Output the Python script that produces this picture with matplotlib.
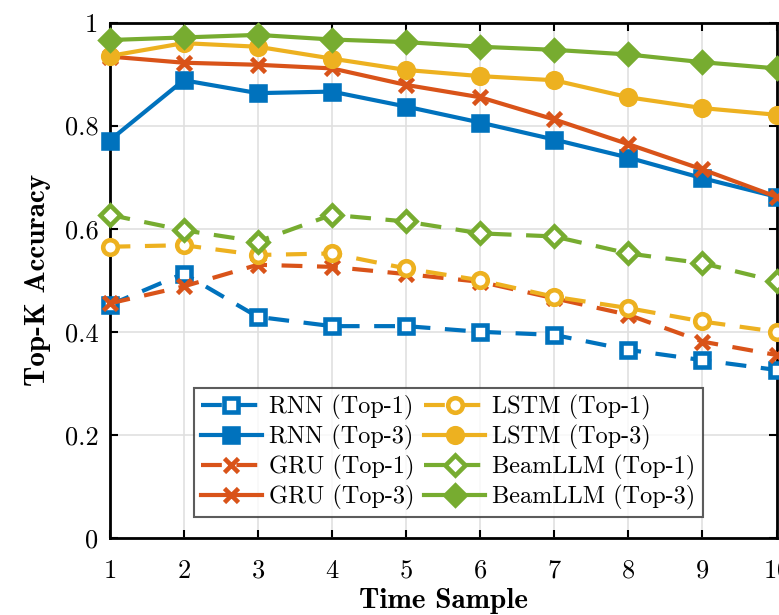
import numpy as np
import matplotlib.pyplot as plt

# Data
time_sample = [1, 2, 3, 4, 5, 6, 7, 8, 9, 10]

rnn_top1 = [0.452, 0.513, 0.429, 0.411, 0.411, 0.400, 0.394, 0.365, 0.345, 0.326]
rnn_top3 = [0.771, 0.888, 0.863, 0.866, 0.837, 0.806, 0.773, 0.738, 0.698, 0.662]
gru_top1 = [0.455, 0.488, 0.530, 0.526, 0.512, 0.497, 0.465, 0.433, 0.381, 0.355]
gru_top3 = [0.934, 0.922, 0.918, 0.911, 0.879, 0.855, 0.812, 0.764, 0.715, 0.662]
lstm_top1 = [0.565, 0.568, 0.549, 0.552, 0.523, 0.500, 0.468, 0.446, 0.420, 0.400]
lstm_top3 = [0.935, 0.960, 0.953, 0.930, 0.908, 0.896, 0.888, 0.855, 0.834, 0.821]
beam_top1 = [0.627, 0.597, 0.575, 0.627, 0.614, 0.591, 0.585, 0.552, 0.533, 0.498]
beam_top3 = [0.966, 0.971, 0.976, 0.967, 0.962, 0.953, 0.947, 0.938, 0.923, 0.911]

blue = '#0072BD'
orange = '#D95319'
yellow = '#EDB120'
green = '#77AC30'

plt.rcParams['font.family'] = 'cmr10'
plt.rcParams['axes.formatter.use_mathtext'] = True

fig = plt.figure(figsize=(7.79, 6.15), dpi=100)
ax = fig.add_axes([0.1406, 0.1252, 0.8562, 0.8382])

lw = 3.0
ms = 10.5
dash = (0, (5, 3.5))

series = [
    (rnn_top1, blue, 's', True, 'RNN (Top-1)'),
    (rnn_top3, blue, 's', False, 'RNN (Top-3)'),
    (gru_top1, orange, 'x', True, 'GRU (Top-1)'),
    (gru_top3, orange, 'x', False, 'GRU (Top-3)'),
    (lstm_top1, yellow, 'o', True, 'LSTM (Top-1)'),
    (lstm_top3, yellow, 'o', False, 'LSTM (Top-3)'),
    (beam_top1, green, 'D', True, 'BeamLLM (Top-1)'),
    (beam_top3, green, 'D', False, 'BeamLLM (Top-3)'),
]

for values, color, marker, top1, label in series:
    ax.plot(time_sample, values, color=color, lw=lw,
            linestyle=dash if top1 else '-',
            marker=marker, markersize=ms, markeredgewidth=3.3,
            markerfacecolor='white' if top1 else color,
            markeredgecolor=color, label=label, clip_on=False, zorder=3)

ax.set_xlim(1, 10)
ax.set_ylim(0, 1)
ax.set_xticks(time_sample)
ax.set_yticks([0, 0.2, 0.4, 0.6, 0.8, 1])
ax.set_yticklabels(['0', '0.2', '0.4', '0.6', '0.8', '1'])
ax.tick_params(direction='in', top=True, right=True, length=6, width=1.5,
               labelsize=19, pad=8)
ax.tick_params(axis='x', pad=15)
ax.grid(True, color='#e0e0e0', lw=1.2)
ax.set_axisbelow(True)
for s in ax.spines.values():
    s.set_linewidth(2)

ax.set_xlabel('Time Sample', fontfamily='cmb10', fontsize=21, labelpad=4)
ax.set_ylabel('Top-K Accuracy', fontfamily='cmb10', fontsize=21, labelpad=10)

leg = ax.legend(ncol=2, loc='lower center', bbox_to_anchor=(0.508, 0.04),
                fontsize=17.5, frameon=True, fancybox=False, edgecolor='#333333',
                handlelength=2.5, handletextpad=0.3, columnspacing=0.4,
                labelspacing=0.2, borderpad=0.3, borderaxespad=0)
leg.get_frame().set_linewidth(1.5)

fig.savefig('out.png', dpi=100)
